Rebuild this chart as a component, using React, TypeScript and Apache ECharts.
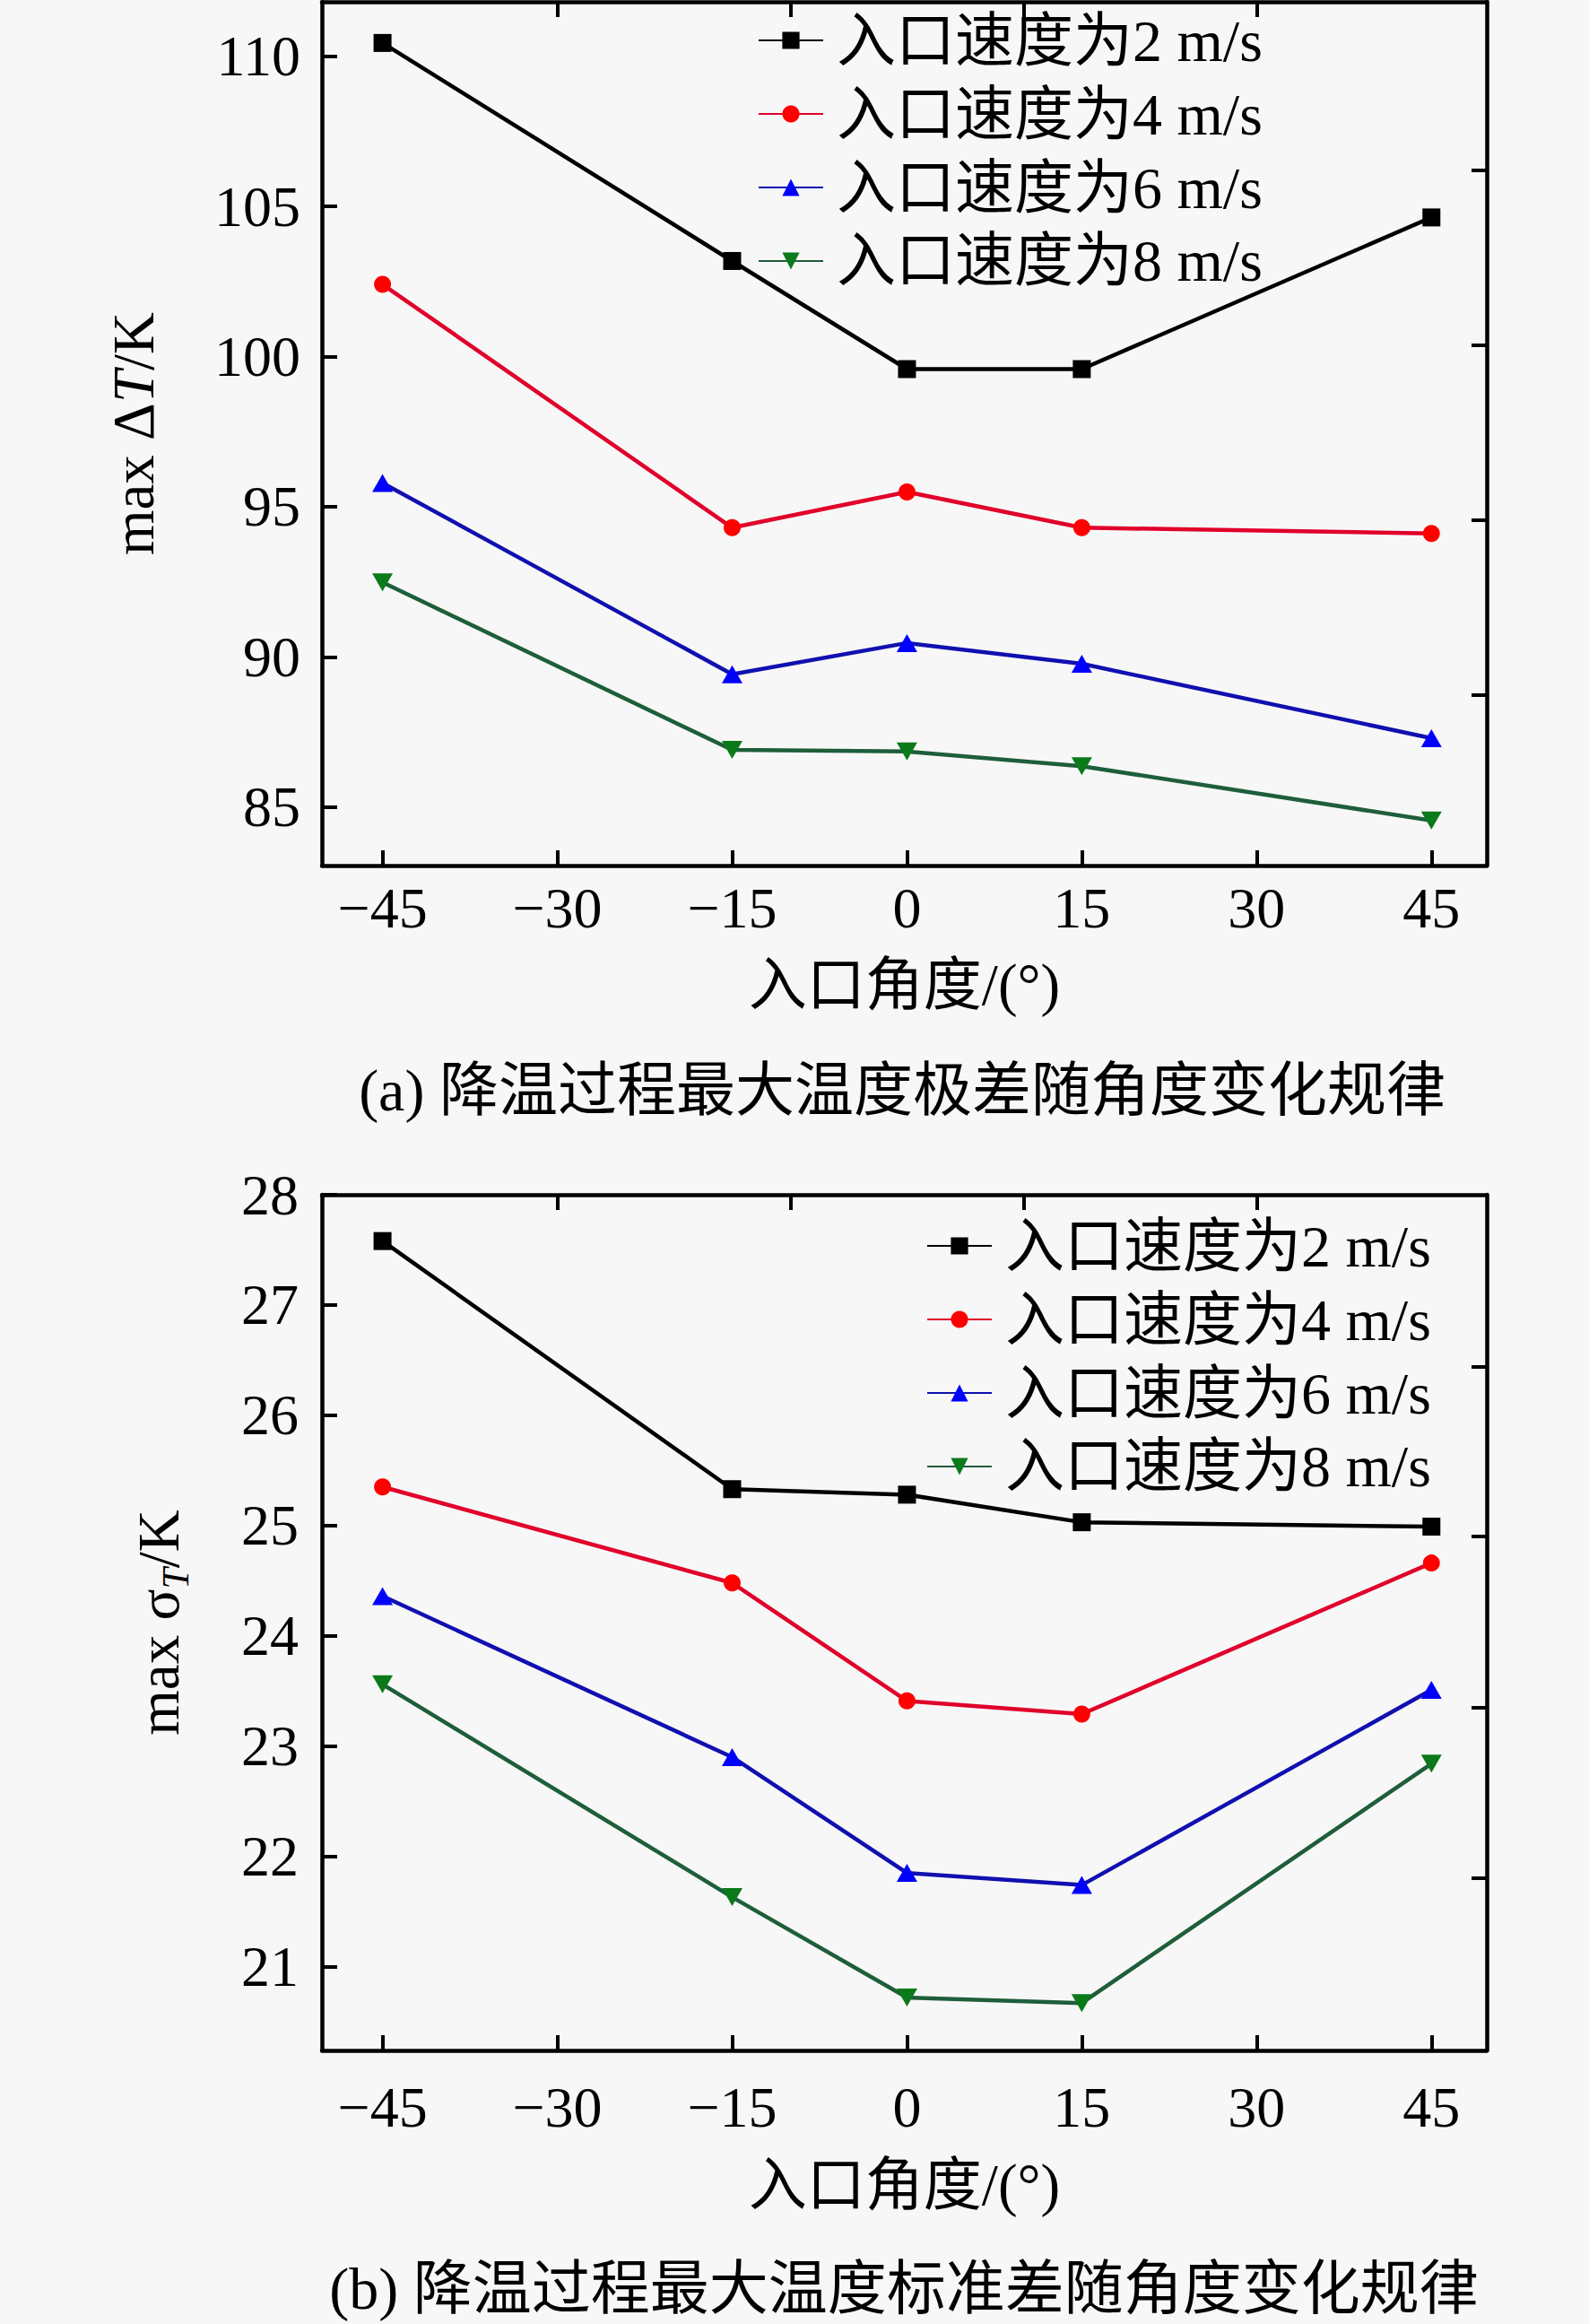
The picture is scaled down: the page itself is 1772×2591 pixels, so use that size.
import { useEffect, useRef } from 'react';
import * as echarts from 'echarts';

const angles = [-45, -15, 0, 15, 45];
const speedNames = ['入口速度为2 m/s', '入口速度为4 m/s', '入口速度为6 m/s', '入口速度为8 m/s'];

// (a) max temperature range, K
const dT2 = [110.44, 103.18, 99.58, 99.58, 104.63];
const dT4 = [102.4, 94.3, 95.49, 94.3, 94.11];
const dT6 = [95.79, 89.42, 90.46, 89.77, 87.29];
const dT8 = [92.48, 86.9, 86.85, 86.36, 84.55];

// (b) max temperature standard deviation, K
const sT2 = [27.58, 25.33, 25.28, 25.03, 24.99];
const sT4 = [25.35, 24.48, 23.41, 23.29, 24.66];
const sT6 = [24.36, 22.9, 21.85, 21.74, 23.51];
const sT8 = [23.56, 21.63, 20.72, 20.67, 22.84];

const xTicks = [-45, -30, -15, 0, 15, 30, 45];
const xTopTicks = [-30, -10, 10, 30];
const yTicksA = [85, 90, 95, 100, 105, 110];
const yRightTicksA = [88.73, 94.56, 100.38, 106.2];
const yTicksB = [21, 22, 23, 24, 25, 26, 27, 28];
const yRightTicksB = [21.8, 23.35, 24.9, 26.44];

const captionA = '(a) 降温过程最大温度极差随角度变化规律';
const captionB = '(b) 降温过程最大温度标准差随角度变化规律';
const xName = '入口角度/(°)';

const FONT = "'Liberation Serif', 'Noto Sans CJK SC', serif";
const BG = '#F7F7F7';

const lineColors = ['#000000', '#E0002A', '#1010B0', '#1E5E3A'];
const markColors = ['#000000', '#FF0000', '#0000FF', '#0B7A1A'];
const symbols = ['rect', 'circle', 'triangle', 'triangle'];
const symbolSizes: any[] = [20, 19, [23, 20], [23, 20]];
const symbolRotates = [0, 0, 0, 180];

const X_MIN = -50.2;
const X_MAX = 49.75;

function pairs(ys: number[]) {
  return angles.map((a, i) => [a, ys[i]]);
}

function makeSeries(sets: number[][], gridIdx: number) {
  return sets.map((ys, i) => ({
    type: 'line',
    name: speedNames[i],
    xAxisIndex: gridIdx * 2,
    yAxisIndex: gridIdx * 2,
    data: pairs(ys),
    symbol: symbols[i],
    symbolSize: symbolSizes[i],
    symbolRotate: symbolRotates[i],
    showAllSymbol: true,
    lineStyle: { color: lineColors[i], width: 4.5 },
    itemStyle: { color: markColors[i] },
  }));
}

const axisLine = { show: true, onZero: false, lineStyle: { color: '#000', width: 4.5 } };
const tick = (vals: number[]) => ({
  show: true,
  inside: true,
  length: 17,
  customValues: vals,
  lineStyle: { color: '#000', width: 4 },
});

function xAxes(gridIdx: number, labelMargin: number, nameGap: number) {
  return [
    {
      type: 'value',
      gridIndex: gridIdx,
      position: 'bottom',
      min: X_MIN,
      max: X_MAX,
      axisLine,
      axisTick: tick(xTicks),
      splitLine: { show: false },
      axisLabel: {
        customValues: xTicks,
        margin: labelMargin,
        color: '#000',
        fontFamily: FONT,
        fontSize: 64,
        formatter: (v: number) => String(v).replace('-', '\u2212'),
      },
      name: xName,
      nameLocation: 'middle',
      nameGap,
      nameTextStyle: { color: '#000', fontFamily: FONT, fontSize: 65 },
    },
    {
      type: 'value',
      gridIndex: gridIdx,
      position: 'top',
      min: X_MIN,
      max: X_MAX,
      axisLine,
      axisTick: tick(xTopTicks),
      splitLine: { show: false },
      axisLabel: { show: false },
    },
  ];
}

function yAxes(
  gridIdx: number,
  min: number,
  max: number,
  ticks: number[],
  rightTicks: number[],
  labelMargin: number,
  name: string,
  nameGap: number,
  rich: any,
) {
  return [
    {
      type: 'value',
      gridIndex: gridIdx,
      position: 'left',
      min,
      max,
      axisLine,
      axisTick: tick(ticks),
      splitLine: { show: false },
      axisLabel: {
        customValues: ticks,
        margin: labelMargin,
        color: '#000',
        fontFamily: FONT,
        fontSize: 64,
      },
      name,
      nameLocation: 'middle',
      nameRotate: 90,
      nameGap,
      nameTextStyle: { color: '#000', fontFamily: FONT, fontSize: 65, rich },
    },
    {
      type: 'value',
      gridIndex: gridIdx,
      position: 'right',
      min,
      max,
      axisLine,
      axisTick: tick(rightTicks),
      splitLine: { show: false },
      axisLabel: { show: false },
    },
  ];
}

function legendAt(left: number, top: number) {
  return {
    data: speedNames,
    orient: 'vertical',
    left,
    top,
    itemWidth: 72,
    itemHeight: 24,
    itemGap: 16,
    selectedMode: false,
    textStyle: {
      color: '#000',
      fontFamily: FONT,
      fontSize: 66,
      lineHeight: 60,
      padding: [0, 0, 0, 10],
    },
  };
}

export default function App() {
  const chartRef = useRef<HTMLDivElement>(null);

  useEffect(() => {
    if (!chartRef.current) return;
    document.body.style.margin = '0';
    document.body.style.background = BG;

    const chart = echarts.init(chartRef.current, null, { renderer: 'svg' });

    const base = { color: '#000', fontFamily: FONT, fontSize: 65 };
    const richA = {
      n: { ...base },
      i: { ...base, fontStyle: 'italic' },
    };
    const richB = {
      n: { ...base, lineHeight: 80, verticalAlign: 'middle' },
      s: { ...base, fontSize: 42, lineHeight: 42, fontStyle: 'italic', verticalAlign: 'bottom' },
    };

    const option: any = {
      animation: false,
      backgroundColor: BG,
      grid: [
        { left: 359, top: 2, width: 1299, height: 963 },
        { left: 359, top: 1332, width: 1299, height: 954 },
      ],
      xAxis: [...xAxes(0, 15, 100), ...xAxes(1, 31, 117)],
      yAxis: [
        ...yAxes(0, 83.05, 111.81, yTicksA, yRightTicksA, 24, '{n|max Δ}{i|T}{n|/K}', 178, richA),
        ...yAxes(1, 20.24, 28.0, yTicksB, yRightTicksB, 26, '{n|max σ}{s|T}{n|/K}', 142, richB),
      ],
      legend: [legendAt(840, 7), legendAt(1028, 1351)],
      series: [...makeSeries([dT2, dT4, dT6, dT8], 0), ...makeSeries([sT2, sT4, sT6, sT8], 1)],
      graphic: [
        {
          type: 'text',
          x: 1006,
          y: 1215,
          style: { text: captionA, fill: '#000', fontFamily: FONT, fontSize: 66, align: 'center', verticalAlign: 'middle' },
        },
        {
          type: 'text',
          x: 1008,
          y: 2551,
          style: { text: captionB, fill: '#000', fontFamily: FONT, fontSize: 66, align: 'center', verticalAlign: 'middle' },
        },
      ],
    };

    chart.setOption(option);

    return () => {
      chart.dispose();
    };
  }, []);

  return <div ref={chartRef} style={{ width: 1772, height: 2591 }} />;
}
